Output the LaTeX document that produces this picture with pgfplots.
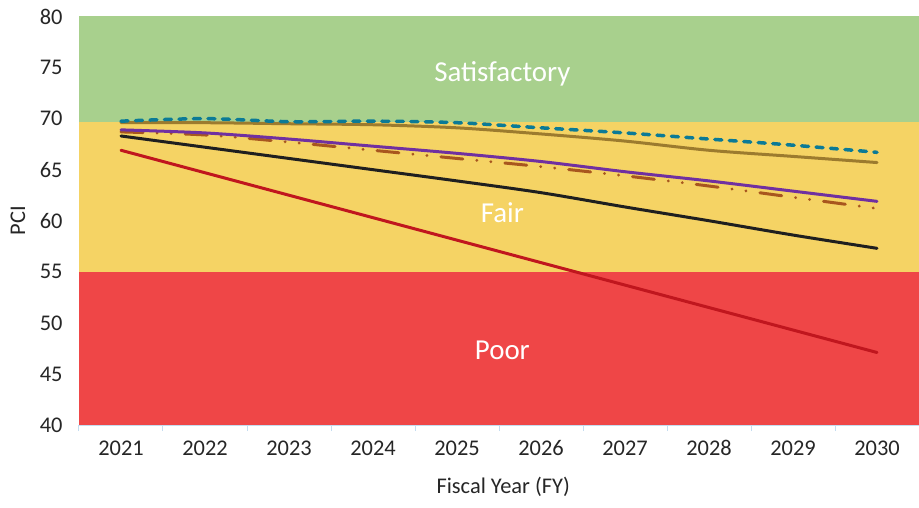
\documentclass[border=0pt]{standalone}
\usepackage{pgfplots}
\pgfplotsset{compat=1.18}
\usepackage{fontspec}
\setmainfont{Carlito}
\definecolor{bandgreen}{HTML}{A8D08D}
\definecolor{bandyellow}{HTML}{F5D364}
\definecolor{bandred}{HTML}{EF4647}
\definecolor{axisblue}{HTML}{C5DDF0}
\definecolor{cteal}{HTML}{0B7A96}
\definecolor{colive}{HTML}{9C7B2E}
\definecolor{cpurple}{HTML}{7030A0}
\definecolor{cbrown}{HTML}{A8561E}
\definecolor{cblack}{HTML}{1F1F1F}
\definecolor{cred}{HTML}{C0161E}
\definecolor{textgray}{HTML}{262626}
\begin{document}
\begin{tikzpicture}
\begin{axis}[
  scale only axis, width=840bp, height=408.5bp,
  xmin=2020.5, xmax=2030.5, ymin=40, ymax=80,
  axis x line*=bottom, axis y line*=left,
  y axis line style={draw=none},
  x axis line style={draw=axisblue, line width=1bp},
  major tick length=0pt,
  xtick={2021,2022,2023,2024,2025,2026,2027,2028,2029,2030},
  xticklabels={2021,2022,2023,2024,2025,2026,2027,2028,2029,2030},
  extra x ticks={2020.5,2021.5,2022.5,2023.5,2024.5,2025.5,2026.5,2027.5,2028.5,2029.5,2030.5},
  extra x tick labels={},
  extra x tick style={major tick length=6bp, tick align=outside, major tick style={draw=axisblue, line width=1bp}},
  ytick={40,45,50,55,60,65,70,75,80},
  /pgf/number format/assume math mode=true,
  /pgf/number format/set thousands separator={},
  ticklabel style={font=\fontsize{22.5}{26}\selectfont, text=textgray},
  yticklabel style={xshift=-13bp},
  xticklabel style={yshift=-12bp},
  xlabel={Fiscal Year (FY)}, ylabel={PCI},
  xlabel style={at={(axis description cs:0.505,-0.152)}, anchor=center, font=\fontsize{22.5}{26}\selectfont, text=textgray},
  ylabel style={at={(axis description cs:-0.0726,0.5)}, anchor=center, font=\fontsize{22.5}{26}\selectfont, text=textgray},
  clip=true,
]
\addplot[draw=none, fill=bandgreen] coordinates {(2020.5,69.7) (2030.5,69.7) (2030.5,80) (2020.5,80)} -- cycle;
\addplot[draw=none, fill=bandyellow] coordinates {(2020.5,55) (2030.5,55) (2030.5,69.7) (2020.5,69.7)} -- cycle;
\addplot[draw=none, fill=bandred] coordinates {(2020.5,40) (2030.5,40) (2030.5,55) (2020.5,55)} -- cycle;

\addplot[cred, line width=3bp, smooth, tension=0.5, line cap=round] coordinates {
(2021,66.9) (2022,64.7) (2023,62.5) (2024,60.3) (2025,58.1) (2026,55.9) (2027,53.7) (2028,51.5) (2029,49.3) (2030,47.1)};
\addplot[cblack, line width=3bp, smooth, tension=0.5, line cap=round] coordinates {
(2021,68.3) (2022,67.2) (2023,66.1) (2024,65.0) (2025,63.9) (2026,62.75) (2027,61.35) (2028,60.0) (2029,58.6) (2030,57.3)};
\addplot[cbrown, line width=3bp, smooth, tension=0.5, line cap=round, dash pattern=on 22bp off 14bp on 0.1bp off 14bp on 0.1bp off 14bp] coordinates {
(2021,68.7) (2022,68.4) (2023,67.7) (2024,66.9) (2025,66.1) (2026,65.3) (2027,64.4) (2028,63.4) (2029,62.3) (2030,61.2)};
\addplot[cpurple, line width=3bp, smooth, tension=0.5, line cap=round] coordinates {
(2021,68.9) (2022,68.6) (2023,68.0) (2024,67.3) (2025,66.6) (2026,65.8) (2027,64.8) (2028,63.9) (2029,62.9) (2030,61.9)};
\addplot[colive, line width=3bp, smooth, tension=0.5, line cap=round] coordinates {
(2021,69.6) (2022,69.6) (2023,69.5) (2024,69.4) (2025,69.1) (2026,68.5) (2027,67.8) (2028,66.9) (2029,66.3) (2030,65.7)};
\addplot[cteal, line width=3.5bp, smooth, tension=0.5, line cap=round, dash pattern=on 7bp off 7.5bp] coordinates {
(2021,69.75) (2022,70.0) (2023,69.7) (2024,69.75) (2025,69.6) (2026,69.1) (2027,68.6) (2028,68.0) (2029,67.4) (2030,66.7)};

\node[anchor=base, text=white, font=\fontsize{29}{33}\selectfont] at (axis cs:2025.54,73.6) {Satisfactory};
\node[anchor=base, text=white, font=\fontsize{29}{33}\selectfont] at (axis cs:2025.54,59.8) {Fair};
\node[anchor=base, text=white, font=\fontsize{29}{33}\selectfont] at (axis cs:2025.54,46.4) {Poor};
\end{axis}
\pgfresetboundingbox
\path ([xshift=-79bp,yshift=-82.5bp]current axis.south west) rectangle ([yshift=16.5bp]current axis.north east);
\end{tikzpicture}
\end{document}
